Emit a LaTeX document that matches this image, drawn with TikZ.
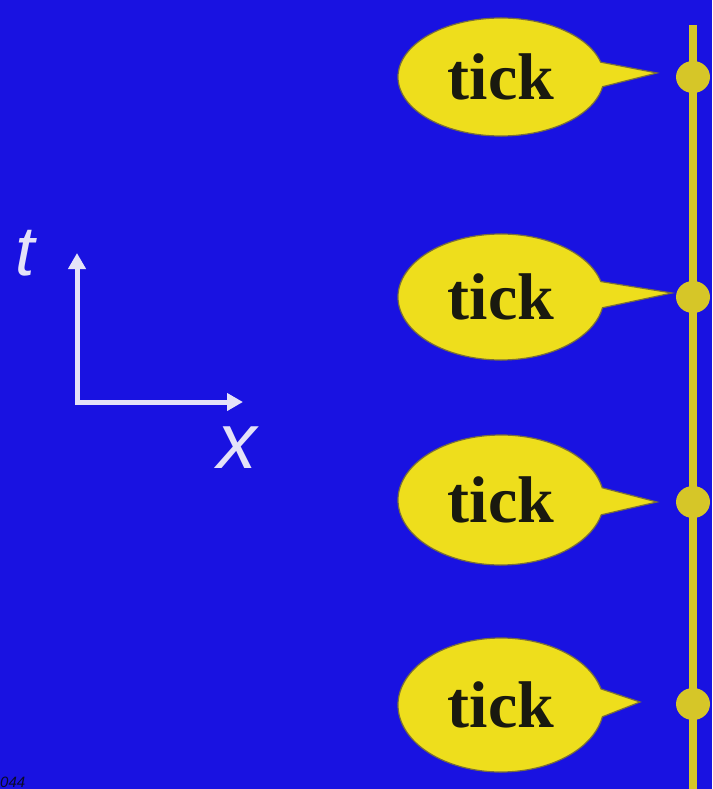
\documentclass[tikz,border=0pt]{standalone}
\usepackage{fontspec}
\setmainfont{Liberation Serif}
\newfontfamily\axisfont{Liberation Sans}
\usetikzlibrary{shapes.geometric,shapes.callouts,arrows.meta}
\definecolor{bgblue}{RGB}{25,18,225}
\definecolor{bubbleyellow}{RGB}{238,222,28}
\definecolor{bubbleedge}{RGB}{120,110,60}
\definecolor{dotyellow}{RGB}{214,198,40}
\definecolor{tickink}{RGB}{25,25,15}
\definecolor{axiswhite}{RGB}{228,226,248}
\definecolor{footink}{RGB}{10,10,40}
\begin{document}
\begin{tikzpicture}[x=1pt,y=-1pt,
  bubble/.style={ellipse callout, fill=bubbleyellow, draw=bubbleedge, line width=1.2pt,
    inner sep=0pt, minimum width=206pt, callout pointer arc=24,
    font=\fontsize{66}{66}\selectfont\bfseries, text=tickink},
  dotnode/.style={ellipse, fill=dotyellow, inner sep=0pt, minimum width=34pt, minimum height=32pt},
  axisline/.style={draw=axiswhite, line width=5pt, line join=miter,
    {Triangle[width=17pt,length=16pt]}-{Triangle[width=17pt,length=16pt]}},
  axislabel/.style={text=axiswhite, inner sep=0pt}]
\fill[bgblue] (0,0) rectangle (712,789);
\useasboundingbox (0,0) rectangle (712,789);
\clip (0,0) rectangle (712,789);

% timeline
\coordinate (ltop) at (693,25);
\coordinate (lbot) at (693,789);
\draw[dotyellow, line width=8pt] (ltop) -- (lbot);
\node[dotnode] (d1) at (693,77) {};
\node[dotnode] (d2) at (693,297) {};
\node[dotnode] (d3) at (693,502) {};
\node[dotnode] (d4) at (693,704) {};

% callout pointer tips
\coordinate (p1) at (657,73);
\coordinate (p2) at (672,293);
\coordinate (p3) at (657,502);
\coordinate (p4) at (640,702);

% bubbles
\node[bubble, minimum height=118pt, callout absolute pointer={(p1)}] (b1) at (501,77) {tick};
\node[bubble, minimum height=126pt, callout absolute pointer={(p2)}] (b2) at (501,297) {tick};
\node[bubble, minimum height=130pt, callout absolute pointer={(p3)}] (b3) at (501,500) {tick};
\node[bubble, minimum height=134pt, callout absolute pointer={(p4)}] (b4) at (501,705) {tick};

% axes
\coordinate (O) at (77,402);
\coordinate (tt) at (77,253);
\coordinate (xt) at (243,402);
\draw[axisline] (tt) -- (O) -- (xt);
\node[axislabel, anchor=base, font=\axisfont\itshape\fontsize{70}{70}\selectfont] (tlab) at (25,275) {t};
\node[axislabel, anchor=base, font=\axisfont\itshape\fontsize{79}{79}\selectfont] (xlab) at (237,468) {x};

% footer fragment
\node[anchor=base west, inner sep=0pt, text=footink, font=\axisfont\itshape\fontsize{15}{15}\selectfont] (foot) at (0,787) {044};
\end{tikzpicture}
\end{document}
